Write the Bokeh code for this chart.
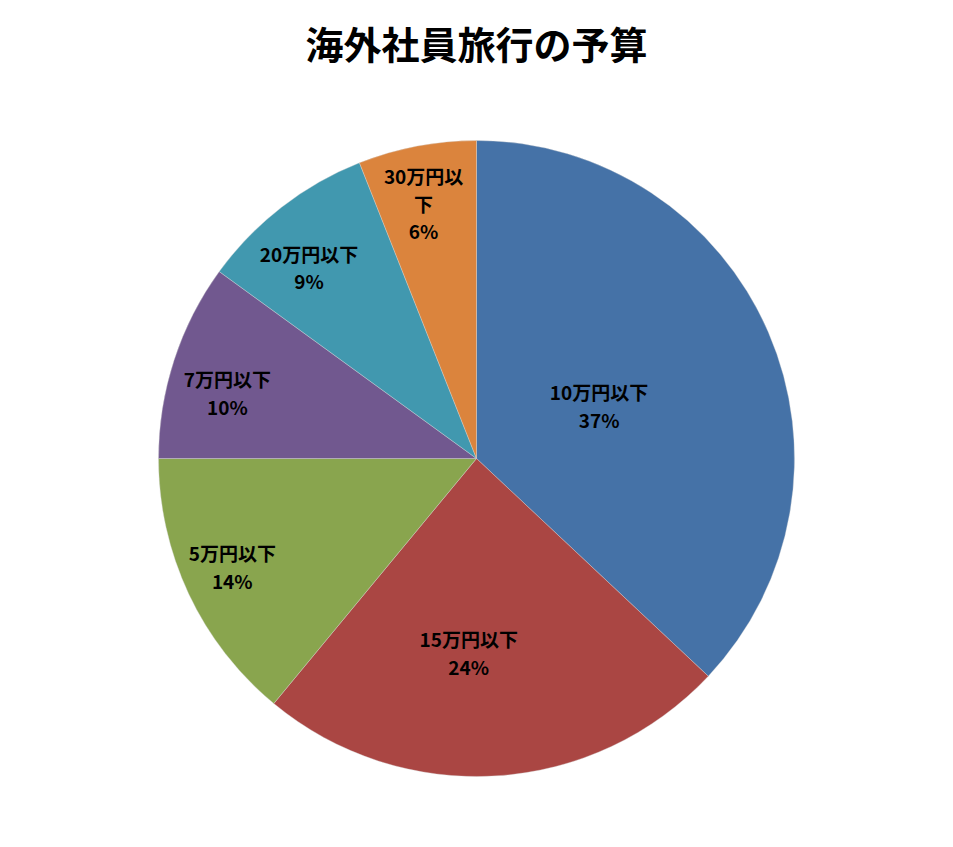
import math
from bokeh.plotting import figure
from bokeh.models import ColumnDataSource, Range1d
from bokeh.core.properties import value
from bokeh.embed import file_html
from bokeh.resources import INLINE

# ---- data ----
title_text = "海外社員旅行の予算"
categories = ["10万円以下", "15万円以下", "5万円以下", "7万円以下", "20万円以下", "30万円以下"]
shares = [37, 24, 14, 10, 9, 6]
label_names = ["10万円以下", "15万円以下", "5万円以下", "7万円以下", "20万円以下", "30万円以\n下"]
colors = ["#4572A7", "#AA4643", "#89A54E", "#71588F", "#4198AF", "#DB843D"]
# "best fit" label placement: distance (fraction of radius) and angular nudge (deg, clockwise)
label_r = [0.42, 0.61, 0.84, 0.81, 0.80, 0.82]
label_turn = [0.0, 5.9, 1.3, -3.2, -3.4, -0.9]

W, H = 937, 831
cx, cy, R = 476, 373, 318

total = float(sum(shares))
starts, ends, lx, ly, texts = [], [], [], [], []
cum = 0.0
for i, s in enumerate(shares):
    a0 = math.pi / 2 - 2 * math.pi * cum / total
    a1 = math.pi / 2 - 2 * math.pi * (cum + s) / total
    starts.append(a0)
    ends.append(a1)
    mid = (a0 + a1) / 2 - math.radians(label_turn[i])
    lx.append(cx + label_r[i] * R * math.cos(mid))
    ly.append(cy + label_r[i] * R * math.sin(mid))
    texts.append(f"{label_names[i]}\n{round(100 * s / total)}%")
    cum += s

src = ColumnDataSource(dict(cat=categories, start=starts, end=ends, color=colors,
                            x=[cx] * len(shares), y=[cy] * len(shares)))
lsrc = ColumnDataSource(dict(x=lx, y=ly, text=texts))

p = figure(width=W, height=H, output_backend="svg", toolbar_location=None,
           x_range=Range1d(0, W), y_range=Range1d(0, H), min_border=0)
p.axis.visible = False
p.grid.visible = False
p.outline_line_color = None
p.background_fill_color = "white"
p.border_fill_color = "white"

p.wedge(x="x", y="y", radius=R, start_angle="start", end_angle="end",
        direction="clock", fill_color="color", line_color="#d9d9d9",
        line_width=0.6, line_alpha=0.6, source=src)

p.text(x="x", y="y", text="text", source=lsrc, text_align="center",
       text_baseline="middle", text_font=value("Noto Sans CJK JP"),
       text_font_size="19px", text_font_style="bold", text_color="#000000",
       text_line_height=1.02)

p.text(x=[cx], y=[789], text=[title_text], text_align="center",
       text_baseline="middle", text_font=value("Noto Sans CJK JP"),
       text_font_size="38px", text_font_style="bold", text_color="#000000")

open("out.html", "w").write(file_html(p, INLINE))
